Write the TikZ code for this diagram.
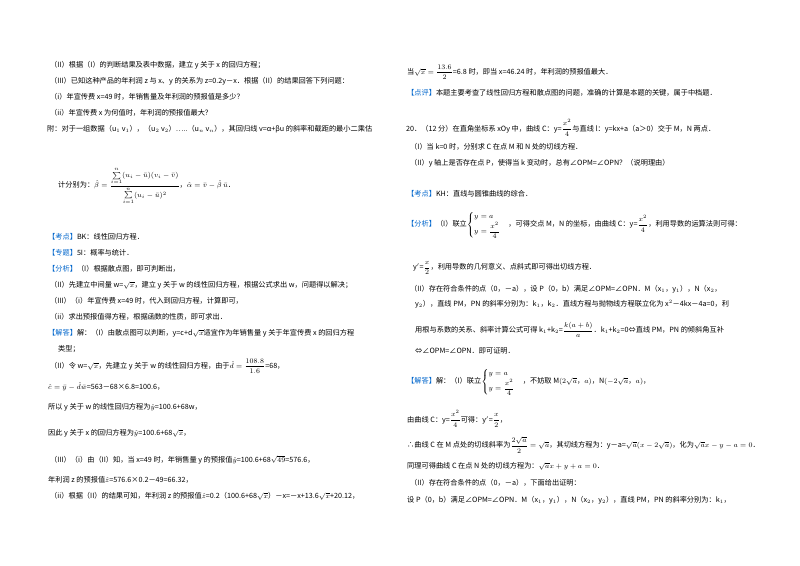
\documentclass[tikz,border=0pt]{standalone}
\usepackage{fontspec}
\usepackage{amsmath}
\setmainfont{Noto Sans CJK SC}
\definecolor{kb}{RGB}{0,102,204}
\begin{document}
\begin{tikzpicture}[x=1pt,y=-1pt,
  t/.style={anchor=west,inner sep=0pt,font=\fontsize{7.2}{8.5}\selectfont},
  b/.style={text=kb}]
\useasboundingbox[fill=white] (0,0) rectangle (800,565);
% left column
\node[t] (l1) at (50,65) {（II）根据（I）的判断结果及表中数据，建立 y 关于 x 的回归方程；};
\node[t] (l2) at (50,81) {（III）已知这种产品的年利润 z 与 x、y 的关系为 z=0.2y－x．根据（II）的结果回答下列问题：};
\node[t] (l3) at (50,97) {（i）年宣传费 x=49 时，年销售量及年利润的预报值是多少？};
\node[t] (l4) at (50,113) {（ii）年宣传费 x 为何值时，年利润的预报值最大？};
\node[t] (l5) at (47,129) {附：对于一组数据（u$_1$ v$_1$），（u$_2$ v$_2$）…..（u$_n$ v$_n$），其回归线 v=α+βu 的斜率和截距的最小二乘估};
\node[t] (l6) at (58,186) {计分别为：$\hat{\beta}=\dfrac{\sum\limits_{i=1}^{n}(u_i-\bar{u})(v_i-\bar{v})}{\sum\limits_{i=1}^{n}(u_i-\bar{u})^2}$，$\hat{\alpha}=\bar{v}-\hat{\beta}\,\bar{u}$．};
\node[t] (l7) at (48,237) {\textcolor{kb}{【考点】}BK：线性回归方程．};
\node[t] (l8) at (48,253) {\textcolor{kb}{【专题】}5I：概率与统计．};
\node[t] (l9) at (48,269) {\textcolor{kb}{【分析】}（I）根据散点图，即可判断出，};
\node[t] (l10) at (50,285) {（II）先建立中间量 w=$\sqrt{x}$，建立 y 关于 w 的线性回归方程，根据公式求出 w，问题得以解决；};
\node[t] (l11) at (50,301) {（III）（i）年宣传费 x=49 时，代入到回归方程，计算即可，};
\node[t] (l12) at (50,317) {（ii）求出预报值得方程，根据函数的性质，即可求出．};
\node[t] (l13) at (48,333) {\textcolor{kb}{【解答】}解：（I）由散点图可以判断，y=c+d$\sqrt{x}$适宜作为年销售量 y 关于年宣传费 x 的回归方程};
\node[t] (l14) at (58,349) {类型；};
\node[t] (l15) at (50,366) {（II）令 w=$\sqrt{x}$，先建立 y 关于 w 的线性回归方程，由于$\hat{d}=\dfrac{108.8}{1.6}$=68，};
\node[t] (l16) at (48,387) {$\hat{c}=\bar{y}-\hat{d}\bar{w}$=563－68×6.8=100.6，};
\node[t] (l17) at (48,407) {所以 y 关于 w 的线性回归方程为$\hat{y}$=100.6+68w，};
\node[t] (l18) at (48,433) {因此 y 关于 x 的回归方程为$\hat{y}$=100.6+68$\sqrt{x}$，};
\node[t] (l19) at (50,460) {（III）（i）由（II）知，当 x=49 时，年销售量 y 的预报值$\hat{y}$=100.6+68$\sqrt{49}$=576.6，};
\node[t] (l20) at (48,480) {年利润 z 的预报值$\hat{z}$=576.6×0.2－49=66.32，};
\node[t] (l21) at (50,496) {（ii）根据（II）的结果可知，年利润 z 的预报值$\hat{z}$=0.2（100.6+68$\sqrt{x}$）－x=－x+13.6$\sqrt{x}$+20.12，};
% right column
\node[t] (r1) at (407,72) {当$\sqrt{x}=\dfrac{13.6}{2}$=6.8 时，即当 x=46.24 时，年利润的预报值最大．};
\node[t] (r2) at (407,93) {\textcolor{kb}{【点评】}本题主要考查了线性回归方程和散点图的问题，准确的计算是本题的关键，属于中档题．};
\node[t] (r3) at (406,128) {20．（12 分）在直角坐标系 xOy 中，曲线 C：y=$\dfrac{x^2}{4}$与直线 l：y=kx+a（a＞0）交于 M，N 两点．};
\node[t] (r4) at (410,147) {（I）当 k=0 时，分别求 C 在点 M 和 N 处的切线方程．};
\node[t] (r5) at (410,163) {（II）y 轴上是否存在点 P，使得当 k 变动时，总有∠OPM=∠OPN？（说明理由）};
\node[t] (r6) at (407,194) {\textcolor{kb}{【考点】}KH：直线与圆锥曲线的综合．};
\node[t] (r7) at (407,225) {\textcolor{kb}{【分析】}（I）联立$\begin{cases}y=a\\[1pt] y=\dfrac{x^2}{4}\end{cases}$，可得交点 M，N 的坐标，由曲线 C：y=$\dfrac{x^2}{4}$，利用导数的运算法则可得：};
\node[t] (r8) at (413,268) {y$'$=$\dfrac{x}{2}$，利用导数的几何意义、点斜式即可得出切线方程．};
\node[t] (r9) at (410,289) {（II）存在符合条件的点（0，－a），设 P（0，b）满足∠OPM=∠OPN．M（x$_1$，y$_1$），N（x$_2$，};
\node[t] (r10) at (415,304) {y$_2$），直线 PM，PN 的斜率分别为：k$_1$，k$_2$．直线方程与抛物线方程联立化为 x$^2$－4kx－4a=0，利};
\node[t] (r11) at (415,330) {用根与系数的关系、斜率计算公式可得 k$_1$+k$_2$=$\dfrac{k(a+b)}{a}$．k$_1$+k$_2$=0⇔直线 PM，PN 的倾斜角互补};
\node[t] (r12) at (415,351) {⇔∠OPM=∠OPN．即可证明．};
\node[t] (r13) at (407,382) {\textcolor{kb}{【解答】}解：（I）联立$\begin{cases}y=a\\[1pt] y=\dfrac{x^2}{4}\end{cases}$，不妨取 M$(2\sqrt{a}，a)$，N$(-2\sqrt{a}，a)$，};
\node[t] (r14) at (407,419) {由曲线 C：y=$\dfrac{x^2}{4}$可得：y$'$=$\dfrac{x}{2}$，};
\node[t] (r15) at (407,445) {∴曲线 C 在 M 点处的切线斜率为$\dfrac{2\sqrt{a}}{2}=\sqrt{a}$，其切线方程为：y－a=$\sqrt{a}(x-2\sqrt{a})$，化为$\sqrt{a}x-y-a=0$．};
\node[t] (r16) at (407,466) {同理可得曲线 C 在点 N 处的切线方程为：$\sqrt{a}x+y+a=0$．};
\node[t] (r17) at (410,483) {（II）存在符合条件的点（0，－a），下面给出证明：};
\node[t] (r18) at (407,500) {设 P（0，b）满足∠OPM=∠OPN．M（x$_1$，y$_1$），N（x$_2$，y$_2$），直线 PM，PN 的斜率分别为：k$_1$，};
\end{tikzpicture}
\end{document}
